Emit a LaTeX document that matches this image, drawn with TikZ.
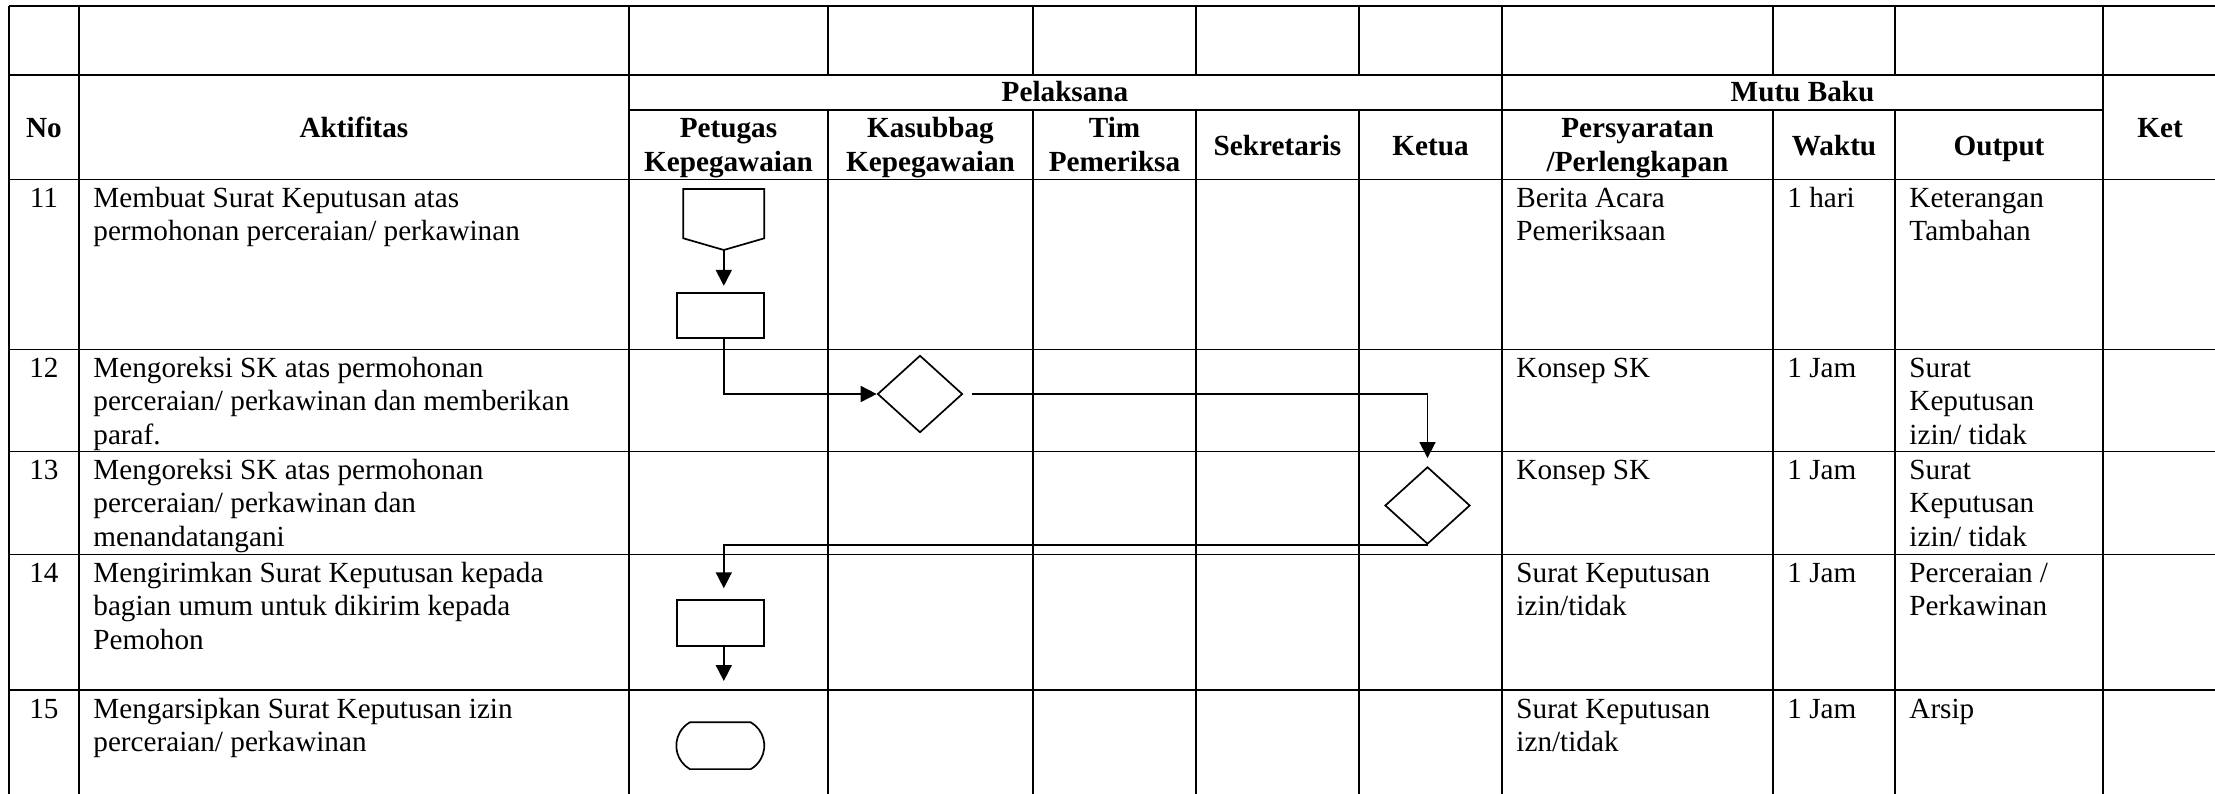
\documentclass[tikz,border=0pt]{standalone}
\usepackage{fontspec}
\setmainfont{Liberation Serif}
\usetikzlibrary{arrows.meta,shapes.geometric,shapes.misc}
\newcommand\bodyf{\fontsize{14.6}{16.7}\selectfont}
\newcommand\headf{\fontsize{14.6}{17}\selectfont\bfseries}
\newcommand\mlt[2][l]{\begin{tabular}[t]{@{}#1@{}}#2\end{tabular}}
\begin{document}
\begin{tikzpicture}[x=0.5pt,y=-0.5pt,
  grid/.style={line width=0.55pt},
  hd/.style={font=\headf,anchor=base,inner sep=0pt},
  tx/.style={font=\bodyf,anchor=base west,inner sep=0pt},
  num/.style={font=\bodyf,anchor=base,inner sep=0pt},
  shp/.style={draw,line width=0.85pt,inner sep=0pt},
  proc/.style={shp,rectangle,minimum width=43.8pt,minimum height=22.8pt},
  dec/.style={shp,diamond,minimum width=42.5pt,minimum height=38.6pt},
  term/.style={shp,rounded rectangle,rounded rectangle arc length=120,minimum width=44pt,minimum height=23.4pt},
  link/.style={line width=0.85pt},
  arr/.style={link,-{Triangle[length=8pt,width=8pt]}}]
\useasboundingbox (0,0) rectangle (2215,793);
% ---------- table grid ----------
\begin{scope}
\clip (0,0) rectangle (2215,793);
\foreach \yy in {6,75,179.3,349.3,451.3,554.3,690}
  \draw[grid] (9,\yy) -- (2217,\yy);
\draw[grid] (629,110) -- (2103,110);
\foreach \xx in {9,79,629,1502,2103,2217}
  \draw[grid] (\xx,6) -- (\xx,800);
\foreach \xx in {828,1033,1196,1359,1773,1895}{
  \draw[grid] (\xx,6) -- (\xx,75);
  \draw[grid] (\xx,110) -- (\xx,800);}
\end{scope}
% ---------- headers ----------
\node[hd] (hno)  at (44,137) {No};
\node[hd] (hakt) at (354,137) {Aktifitas};
\node[hd] (hket) at (2160,137) {Ket};
\node[hd] (hpel) at (1065,101.7) {Pelaksana};
\node[hd] (hmut) at (1802.5,101.7) {Mutu Baku};
\node[hd] (hpet) at (728.5,137.5) {\mlt[c]{Petugas\\Kepegawaian}};
\node[hd] (hkas) at (930.5,137.5) {\mlt[c]{Kasubbag\\Kepegawaian}};
\node[hd] (htim) at (1114.5,137.5) {\mlt[c]{Tim\\Pemeriksa}};
\node[hd] (hsek) at (1277.5,155) {Sekretaris};
\node[hd] (hktu) at (1430.5,155) {Ketua};
\node[hd] (hper) at (1637.5,137.5) {\mlt[c]{Persyaratan\\/Perlengkapan}};
\node[hd] (hwak) at (1834,155) {Waktu};
\node[hd] (hout) at (1999,155) {Output};
% ---------- row 11 ----------
\node[num] (n11) at (44,207.3) {11};
\node[tx] (a11) at (93,207.3) {\mlt{Membuat Surat Keputusan atas\\permohonan perceraian/ perkawinan}};
\node[tx] (p11) at (1516,207.3) {\mlt{Berita Acara\\Pemeriksaan}};
\node[tx] (w11) at (1787,207.3) {1 hari};
\node[tx] (o11) at (1909,207.3) {\mlt{Keterangan\\Tambahan}};
% ---------- row 12 ----------
\node[num] (n12) at (44,377.3) {12};
\node[tx] (a12) at (93,377.3) {\mlt{Mengoreksi SK atas permohonan\\perceraian/ perkawinan dan memberikan\\paraf.}};
\node[tx] (p12) at (1516,377.3) {Konsep SK};
\node[tx] (w12) at (1787,377.3) {1 Jam};
\node[tx] (o12) at (1909,377.3) {\mlt{Surat\\Keputusan\\izin/ tidak}};
% ---------- row 13 ----------
\node[num] (n13) at (44,479.3) {13};
\node[tx] (a13) at (93,479.3) {\mlt{Mengoreksi SK atas permohonan\\perceraian/ perkawinan dan\\menandatangani}};
\node[tx] (p13) at (1516,479.3) {Konsep SK};
\node[tx] (w13) at (1787,479.3) {1 Jam};
\node[tx] (o13) at (1909,479.3) {\mlt{Surat\\Keputusan\\izin/ tidak}};
% ---------- row 14 ----------
\node[num] (n14) at (44,582.3) {14};
\node[tx] (a14) at (93,582.3) {\mlt{Mengirimkan Surat Keputusan kepada\\bagian umum untuk dikirim kepada\\Pemohon}};
\node[tx] (p14) at (1516,582.3) {\mlt{Surat Keputusan\\izin/tidak}};
\node[tx] (w14) at (1787,582.3) {1 Jam};
\node[tx] (o14) at (1909,582.3) {\mlt{Perceraian /\\Perkawinan}};
% ---------- row 15 ----------
\node[num] (n15) at (44,718) {15};
\node[tx] (a15) at (93,718) {\mlt{Mengarsipkan Surat Keputusan izin\\perceraian/ perkawinan}};
\node[tx] (p15) at (1516,718) {\mlt{Surat Keputusan\\izn/tidak}};
\node[tx] (w15) at (1787,718) {1 Jam};
\node[tx] (o15) at (1909,718) {Arsip};
% ---------- flow shapes ----------
\draw[link] (683.3,189) -- (764.3,189) -- (764.3,238.3) -- (723.8,250) -- (683.3,238.3) -- cycle;
\coordinate (offtip) at (723.8,250);
\node[proc] (r1) at (720.5,315.5) {};
\node[dec]  (d1) at (920,394) {};
\node[dec]  (d2) at (1427.5,505.5) {};
\node[proc] (r2) at (720.5,622.9) {};
\node[term] (t1) at (720.3,745.7) {};
\coordinate (end14) at (723.8,681);
% ---------- connectors ----------
\draw[arr,shorten >=3pt] (offtip) -- (r1.north -| offtip);
\draw[arr] (r1.south -| offtip) |- (d1.west);
\draw[arr,shorten <=4.5pt,shorten >=4pt] (d1.east) -| (d2.north);
\draw[arr,shorten >=5.5pt] (d2.south) -| (r2.north -| offtip);
\draw[arr] (r2.south -| offtip) -- (end14);
\end{tikzpicture}
\end{document}
